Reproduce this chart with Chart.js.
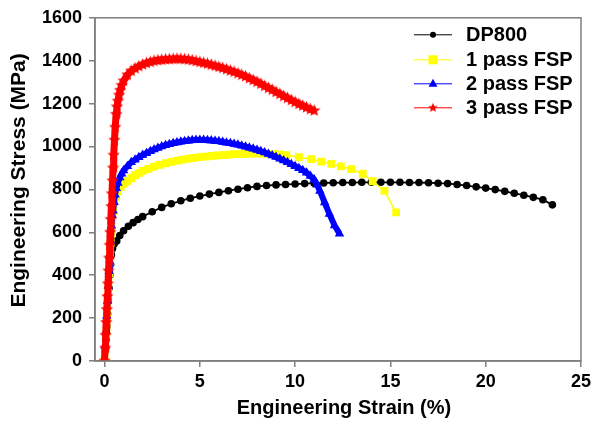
<!DOCTYPE html>
<html><head><meta charset="utf-8">
<script src="https://cdn.jsdelivr.net/npm/chart.js@4/dist/chart.umd.min.js"></script>
<style>html,body{margin:0;padding:0;background:#fff}canvas{display:block}</style>
</head><body>
<canvas id="c" width="595" height="424"></canvas>
<script>
// ---- data ----
const seriesNames = ["DP800", "1 pass FSP", "2 pass FSP", "3 pass FSP"];
const xTitle = "Engineering Strain (%)";
const yTitle = "Engineering Stress (MPa)";

const dp800Strain = [0,0.04,0.08,0.12,0.16,0.2,0.24,0.28,0.32,0.36,0.42,0.5,0.64,0.8,1.0,1.25,1.5,1.75,2.0,2.5,3.0,3.5,4.0,4.5,5.0,5.5,6.0,6.5,7.0,7.5,8.0,8.5,9.0,9.5,10.0,10.5,11.0,11.5,12.0,12.5,13.0,13.5,14.0,14.5,15.0,15.5,16.0,16.5,17.0,17.5,18.0,18.5,19.0,19.5,20.0,20.5,21.0,21.5,22.0,22.5,23.0,23.5];
const dp800Stress = [0,50,100,160,220,280,340,400,450,495,525,545,560,585,607,628,645,660,673,696,716,733,747,759,769,778,786,794,801,808,814,818,821,823,825,827,829,830,831,832,832,833,833,833,833,833,832,832,831,829,827,823,818,812,806,799,791,782,773,763,752,728];

const pass1Strain = [0,0.04,0.08,0.12,0.16,0.2,0.24,0.28,0.32,0.36,0.4,0.45,0.5,0.6,0.7,0.85,1.0,1.2,1.4,1.6,1.8,2.0,2.3,2.6,2.9,3.2,3.5,3.8,4.1,4.4,4.7,5.0,5.3,5.6,5.9,6.2,6.5,6.8,7.1,7.4,7.7,8.0,8.3,8.6,8.9,9.2,9.54,10.2,10.85,11.37,11.9,12.4,12.94,13.55,14.07,14.69,15.3];
const pass1Stress = [0,60,130,200,270,340,410,480,550,610,660,700,730,765,790,812,826,838,852,866,876,886,896,906,914,921,928,934,939,943,947,950,953,956,958,960,962,964,965,966,967,967,967,966,965,963,960,950,941,930,919,907,895,873,838,793,693];

const pass2Strain = [0,0.04,0.08,0.12,0.16,0.2,0.24,0.28,0.32,0.36,0.4,0.45,0.5,0.55,0.62,0.7,0.8,0.9,1.0,1.2,1.4,1.6,1.8,2.0,2.2,2.4,2.6,2.8,3.0,3.2,3.4,3.6,3.8,4.0,4.2,4.4,4.6,4.8,5.0,5.2,5.4,5.6,5.8,6.0,6.2,6.4,6.6,6.8,7.0,7.2,7.4,7.6,7.8,8.0,8.2,8.4,8.6,8.8,9.0,9.2,9.4,9.6,9.8,10.0,10.2,10.4,10.6,10.8,11.0,11.15,11.3,11.55,11.8,12.07,12.33];
const pass2Stress = [0,70,140,210,280,350,420,490,560,630,680,700,740,775,805,830,855,873,888,908,926,938,950,960,969,978,986,993,1000,1006,1011,1015,1019,1022,1025,1027,1029,1030,1030,1030,1029,1028,1026,1024,1021,1018,1015,1012,1008,1004,999,994,989,984,978,972,965,958,951,943,935,926,917,908,899,889,878,862,846,822,793,739,685,632,593];

const pass3Strain = [0,0.03,0.06,0.09,0.12,0.15,0.18,0.21,0.24,0.27,0.3,0.33,0.36,0.39,0.42,0.45,0.48,0.52,0.56,0.61,0.65,0.7,0.76,0.82,0.9,1.0,1.2,1.4,1.6,1.8,2.0,2.2,2.4,2.6,2.8,3.0,3.2,3.4,3.6,3.8,4.0,4.2,4.4,4.6,4.8,5.0,5.2,5.4,5.6,5.8,6.0,6.2,6.4,6.6,6.8,7.0,7.2,7.4,7.6,7.8,8.0,8.2,8.4,8.6,8.8,9.0,9.2,9.4,9.6,9.8,10.0,10.2,10.4,10.6,10.8,11.0];
const pass3Stress = [0,60,120,180,240,300,360,420,480,540,600,660,720,780,840,900,960,1030,1090,1150,1185,1212,1240,1262,1285,1306,1334,1352,1364,1374,1382,1389,1394,1399,1402,1404,1406,1407,1408,1409,1408,1407,1405,1402,1398,1394,1390,1386,1381,1376,1371,1366,1360,1354,1348,1341,1334,1327,1318,1310,1301,1292,1282,1273,1264,1254,1245,1235,1226,1216,1207,1198,1190,1182,1174,1167];

const xTicks = [0, 5, 10, 15, 20, 25];
const yTicks = [0, 200, 400, 600, 800, 1000, 1200, 1400, 1600];

// ---- styling ----
const FONT = '"Liberation Sans", Arial, Helvetica, sans-serif';
const GRAY = '#7f7f7f';

function makeStar(r, color) {
  const s = Math.ceil(r * 2 + 2);
  const c = document.createElement('canvas');
  c.width = s; c.height = s;
  const g = c.getContext('2d');
  g.fillStyle = color;
  g.beginPath();
  for (let k = 0; k < 10; k++) {
    const rad = k % 2 === 0 ? r : r * 0.45;
    const a = -Math.PI / 2 + k * Math.PI / 5;
    g.lineTo(s / 2 + rad * Math.cos(a), s / 2 + rad * Math.sin(a));
  }
  g.closePath();
  g.fill();
  return c;
}
const starImg = makeStar(6.5, '#ff0000');
const starLegend = makeStar(5, '#ff0000');

const pts = (xs, ys) => xs.map((x, i) => ({x: x, y: ys[i]}));

const datasets = [
  {label: seriesNames[0], data: pts(dp800Strain, dp800Stress), borderColor: '#000000', backgroundColor: '#000000',
   borderWidth: 1.8, pointStyle: 'circle', pointRadius: 3.8, pointBorderWidth: 0, order: 4},
  {label: seriesNames[1], data: pts(pass1Strain, pass1Stress), borderColor: '#ffff00', backgroundColor: '#ffff00',
   borderWidth: 1.5, pointStyle: 'rect', pointRadius: 5.5, pointBorderWidth: 0, order: 3,
   segment: {borderWidth: c => (c.p1.parsed.x <= 9.6 ? 7 : 1.5)}},
  {label: seriesNames[2], data: pts(pass2Strain, pass2Stress), borderColor: '#0000ff', backgroundColor: '#0000ff',
   borderWidth: 6, pointStyle: 'triangle', pointRadius: 5.5, pointBorderWidth: 0, order: 2},
  {label: seriesNames[3], data: pts(pass3Strain, pass3Stress), borderColor: '#ff0000', backgroundColor: '#ff0000',
   borderWidth: 7, pointStyle: starImg, pointRadius: 6, pointBorderWidth: 0, order: 1}
];

const frame = {
  id: 'frame',
  afterDatasetsDraw(chart) {
    const {ctx, chartArea: a} = chart;
    ctx.save();
    ctx.strokeStyle = GRAY;
    ctx.lineWidth = 1.5;
    ctx.strokeRect(a.left, a.top, a.right - a.left, a.bottom - a.top);
    ctx.restore();
  }
};

const titles = {
  id: 'titles',
  afterDraw(chart) {
    const {ctx, chartArea: a} = chart;
    ctx.save();
    ctx.fillStyle = '#000';
    ctx.textAlign = 'center';
    ctx.textBaseline = 'middle';
    ctx.font = 'bold 20px ' + FONT;
    ctx.fillText(xTitle, (a.left + a.right) / 2 + 6, a.bottom + 47);
    ctx.translate(19, (a.top + a.bottom) / 2 - 9);
    ctx.rotate(-Math.PI / 2);
    ctx.font = 'bold 21px ' + FONT;
    ctx.fillText(yTitle, 0, 0);
    ctx.restore();
  }
};

const legendBox = {
  id: 'legendBox',
  afterDraw(chart) {
    const {ctx, chartArea: a} = chart;
    const x0 = a.right - 167, x1 = a.right - 129, xm = (x0 + x1) / 2, xt = a.right - 115;
    const ys = [a.top + 17, a.top + 42, a.top + 66, a.top + 90];
    ctx.save();
    chart.data.datasets.forEach((ds, i) => {
      const y = ys[i];
      ctx.strokeStyle = ds.borderColor;
      ctx.lineWidth = 1;
      ctx.beginPath(); ctx.moveTo(x0, y); ctx.lineTo(x1, y); ctx.stroke();
      ctx.fillStyle = ds.backgroundColor;
      ctx.beginPath();
      if (i === 0) { ctx.arc(xm, y, 3, 0, Math.PI * 2); ctx.fill(); }
      else if (i === 1) { ctx.fillRect(xm - 4.5, y - 4.5, 9, 9); }
      else if (i === 2) { ctx.moveTo(xm, y - 5); ctx.lineTo(xm + 4.5, y + 3); ctx.lineTo(xm - 4.5, y + 3); ctx.closePath(); ctx.fill(); }
      else { ctx.drawImage(starLegend, xm - starLegend.width / 2, y - starLegend.height / 2); }
      ctx.fillStyle = '#000';
      ctx.font = 'bold 20px ' + FONT;
      ctx.textBaseline = 'middle';
      ctx.textAlign = 'left';
      ctx.fillText(ds.label, xt, y + 1);
    });
    ctx.restore();
  }
};

new Chart(document.getElementById('c'), {
  type: 'line',
  data: {datasets: datasets},
  options: {
    responsive: false,
    animation: false,
    devicePixelRatio: 1,
    layout: {padding: {left: 0, right: 13, top: 11, bottom: 0}},
    plugins: {legend: {display: false}, tooltip: {enabled: false}},
    elements: {line: {tension: 0}},
    scales: {
      x: {
        type: 'linear', min: -0.5, max: 25,
        afterBuildTicks: s => { s.ticks = xTicks.map(v => ({value: v})); },
        afterFit: s => { s.height = 63; },
        grid: {drawOnChartArea: false, drawTicks: true, tickLength: 6, color: GRAY, lineWidth: 1.5},
        border: {display: true, color: GRAY, width: 1.5},
        ticks: {color: '#000', font: {family: FONT, size: 18, weight: 'bold'}, padding: 4, maxRotation: 0, autoSkip: false,
                callback: v => String(v)},
        title: {display: false, text: xTitle}
      },
      y: {
        type: 'linear', min: 0, max: 1600,
        afterBuildTicks: s => { s.ticks = yTicks.map(v => ({value: v})); },
        afterFit: s => { s.width = 95; },
        grid: {drawOnChartArea: false, drawTicks: true, tickLength: 6, color: GRAY, lineWidth: 1.5},
        border: {display: true, color: GRAY, width: 1.5},
        ticks: {color: '#000', font: {family: FONT, size: 18, weight: 'bold'}, padding: 7, autoSkip: false,
                callback: v => String(v)},
        title: {display: false, text: yTitle}
      }
    }
  },
  plugins: [frame, titles, legendBox]
});
</script>
</body></html>
